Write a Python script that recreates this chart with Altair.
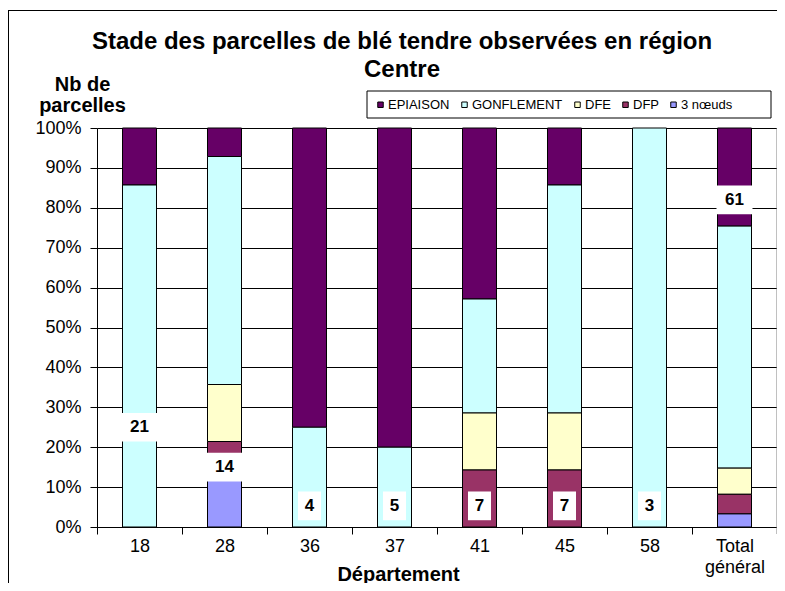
import altair as alt
import pandas as pd

# ---- data ----
departements = ["18", "28", "36", "37", "41", "45", "58", "Total général"]
stades = ["EPIAISON", "GONFLEMENT", "DFE", "DFP", "3 nœuds"]
couleurs = ["#660066", "#CCFFFF", "#FFFFCC", "#993366", "#9999FF"]
epiaison = [3, 1, 3, 4, 3, 1, 0, 15]
gonflement = [18, 8, 1, 1, 2, 4, 3, 37]
dfe = [0, 2, 0, 0, 1, 1, 0, 4]
dfp = [0, 1, 0, 0, 1, 1, 0, 3]
trois_noeuds = [0, 2, 0, 0, 0, 0, 0, 2]
totaux = [21, 14, 4, 5, 7, 7, 3, 61]
position_etiquette = [0.25, 0.15, 0.053, 0.053, 0.053, 0.053, 0.053, 0.82]

FONT = "Liberation Sans"

series = [epiaison, gonflement, dfe, dfp, trois_noeuds]
rows = []
for i, (stade, vals) in enumerate(zip(stades, series)):
    for dep, v in zip(departements, vals):
        if v > 0:
            rows.append({"dep": dep, "stade": stade, "n": v, "ordre": len(stades) - 1 - i})
df = pd.DataFrame(rows)

lab = pd.DataFrame({"dep": departements, "total": totaux, "pos": position_etiquette})

xaxis = alt.Axis(
    title="Département", titleFontSize=20, titleFontWeight="bold", titleColor="black",
    titleX=301, titleY=53, titleAlign="center", titleBaseline="alphabetic",
    labelFontSize=18, labelAngle=0, labelPadding=3, labelColor="black",
    labelExpr="datum.value == 'Total général' ? ['Total', 'général'] : datum.value",
    labelLineHeight=21,
    tickSize=7, tickBand="extent", tickColor="black", domainColor="black", grid=False,
)
yaxis = alt.Axis(
    values=[i / 10 for i in range(11)], format=".0%",
    labelFontSize=18, labelColor="black", labelPadding=9,
    grid=True, gridColor="black", gridOpacity=1,
    tickSize=7, tickColor="black", domainColor="black",
    title=["Nb de", "parcelles"], titleAngle=0, titleX=-15, titleY=-38,
    titleAlign="center", titleBaseline="alphabetic", titleFontSize=20,
    titleFontWeight="bold", titleColor="black", titleLineHeight=21,
)
xenc = alt.X("dep:N", sort=departements, scale=alt.Scale(paddingInner=0, paddingOuter=0), axis=xaxis)

bars = alt.Chart(df).mark_bar(size=34, stroke="black", strokeWidth=1).encode(
    x=xenc,
    y=alt.Y("n:Q", stack="normalize", scale=alt.Scale(domain=[0, 1]), axis=yaxis),
    color=alt.Color(
        "stade:N",
        scale=alt.Scale(domain=stades, range=couleurs),
        legend=alt.Legend(
            title=None, orient="none", legendX=277, legendY=-30, direction="horizontal",
            columns=5, symbolType="square", symbolSize=30, symbolStrokeColor="black",
            symbolStrokeWidth=1, symbolOpacity=1, labelFontSize=13, labelColor="black",
            labelOffset=1, columnPadding=8, padding=0,
        ),
    ),
    order=alt.Order("ordre:Q"),
)

base_lab = alt.Chart(lab).transform_calculate(
    y1="datum.pos - 0.036", y2="datum.pos + 0.036",
    w="length(toString(datum.total)) > 1 ? 36 : 23",
)
boxes = base_lab.mark_bar(color="white", stroke=None).encode(
    x=xenc,
    y=alt.Y("y1:Q", scale=alt.Scale(domain=[0, 1]), axis=yaxis),
    y2="y2:Q",
    size=alt.Size("w:Q", scale=None, legend=None),
)
texts = base_lab.mark_text(fontSize=17, fontWeight="bold", color="black", baseline="middle").encode(
    x=xenc,
    y=alt.Y("pos:Q", scale=alt.Scale(domain=[0, 1]), axis=yaxis),
    text="total:Q",
)

deco = pd.DataFrame({"k": [0]})
legend_box = alt.Chart(deco).mark_rect(fill="white", stroke="black", strokeWidth=1).encode(
    x=alt.value(270), x2=alt.value(674), y=alt.value(-37), y2=alt.value(-10)
)
right_edge = alt.Chart(deco).mark_rule(color="#808080", strokeWidth=1).encode(
    x=alt.value(680), y=alt.value(0), y2=alt.value(406)
)
frame_top = alt.Chart(deco).mark_rule(color="black", strokeWidth=1).encode(
    x=alt.value(-89), x2=alt.value(680), y=alt.value(-117.5)
)
frame_left = alt.Chart(deco).mark_rule(color="black", strokeWidth=1).encode(
    x=alt.value(-88.5), y=alt.value(-118), y2=alt.value(460)
)

chart = alt.layer(
    legend_box, right_edge, frame_top, frame_left, bars, boxes, texts
).properties(
    width=680, height=399,
    title=alt.TitleParams(
        text=["Stade des parcelles de blé tendre observées en région", "Centre"],
        fontSize=24, fontWeight="bold", color="black", anchor="middle", frame="group",
        dx=-35, dy=72, offset=0, lineHeight=28,
    ),
    autosize=alt.AutoSizeParams(type="none"),
    padding={"left": 89, "top": 120, "right": 0, "bottom": 56},
).configure(font=FONT).configure_view(stroke=None)

chart.save("out.html", embed_options={"renderer": "svg", "actions": False})
